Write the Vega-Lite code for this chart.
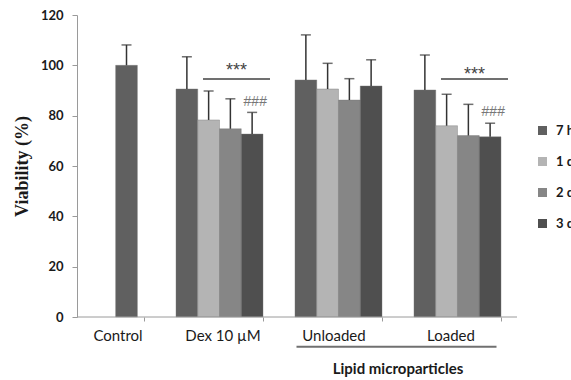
{
  "$schema": "https://vega.github.io/schema/vega-lite/v6.json",
  "width": 440,
  "height": 302,
  "autosize": "none",
  "padding": {"left": 77, "top": 15, "right": 54, "bottom": 63},
  "background": "white",
  "config": {"view": {"stroke": null}, "font": "Lato"},
  "datasets": {
    "bars": [
      {"group": "Control", "series": "7 h", "value": 100.0, "upper": 108.1},
      {"group": "Dex 10 µM", "series": "7 h", "value": 90.6, "upper": 103.4},
      {"group": "Dex 10 µM", "series": "1 d", "value": 78.3, "upper": 89.8},
      {"group": "Dex 10 µM", "series": "2 d", "value": 74.8, "upper": 86.7},
      {"group": "Dex 10 µM", "series": "3 d", "value": 72.7, "upper": 81.3},
      {"group": "Unloaded", "series": "7 h", "value": 94.2, "upper": 112.1},
      {"group": "Unloaded", "series": "1 d", "value": 90.6, "upper": 100.8},
      {"group": "Unloaded", "series": "2 d", "value": 86.2, "upper": 94.7},
      {"group": "Unloaded", "series": "3 d", "value": 91.8, "upper": 102.2},
      {"group": "Loaded", "series": "7 h", "value": 90.2, "upper": 104.1},
      {"group": "Loaded", "series": "1 d", "value": 76.0, "upper": 88.5},
      {"group": "Loaded", "series": "2 d", "value": 72.1, "upper": 84.5},
      {"group": "Loaded", "series": "3 d", "value": 71.6, "upper": 77.0}
    ],
    "stars": [
      {"group": "Dex 10 µM", "line": 94.6, "label": "***", "labelY": 97.6, "hash": "###", "hashY": 85.4},
      {"group": "Loaded", "line": 94.6, "label": "***", "labelY": 96.2, "hash": "###", "hashY": 81.6}
    ],
    "bracket": [
      {"group": "Unloaded", "line": -11.8, "label": "Lipid microparticles", "labelY": -20.7}
    ]
  },
  "layer": [
    {
      "data": {"name": "bars"},
      "transform": [{"filter": "datum.group !== 'Control'"}],
      "mark": {"type": "bar", "stroke": "#777", "strokeWidth": 0.4},
      "encoding": {
        "x": {
          "field": "group", "type": "nominal",
          "scale": {"domain": ["Control", "Dex 10 µM", "Unloaded", "Loaded"], "range": [-36, 440], "paddingInner": 0.2689, "paddingOuter": 0.1345},
          "axis": {
            "title": null, "domain": false, "tickBand": "extent", "tickSize": 4, "tickColor": "#9a9a9a",
            "tickOpacity": {"condition": {"test": "datum.extra", "value": 0}, "value": 1},
            "labelAngle": 0, "labelFontSize": 15, "labelColor": "#1a1a1a", "labelPadding": 7, "labelFont": "Lato",
            "labelOffset": {"condition": [
              {"test": "datum.value === 'Control'", "value": 17},
              {"test": "datum.value === 'Unloaded'", "value": -5},
              {"test": "datum.value === 'Loaded'", "value": -7}
            ], "value": 3}
          }
        },
        "xOffset": {"field": "series", "type": "nominal", "scale": {"domain": ["7 h", "1 d", "2 d", "3 d"], "paddingInner": 0, "paddingOuter": 0}},
        "y": {
          "field": "value", "type": "quantitative",
          "scale": {"domain": [0, 120], "nice": false},
          "axis": {
            "title": "Viability (%)", "titleFont": "Liberation Serif", "titleFontSize": 18, "titleFontWeight": "bold", "titleColor": "#1a1a1a", "titlePadding": 9,
            "values": [0, 20, 40, 60, 80, 100, 120], "grid": false, "domainColor": "#9a9a9a", "tickColor": "#9a9a9a", "tickSize": 5,
            "labelFont": "Lato", "labelFontWeight": "bold", "labelFontSize": 13, "labelColor": "#1a1a1a", "labelPadding": 9
          }
        },
        "color": {
          "field": "series", "type": "nominal",
          "scale": {"domain": ["7 h", "1 d", "2 d", "3 d"], "range": ["#606060", "#b4b4b4", "#868686", "#4f4f4f"]},
          "legend": {
            "title": null, "orient": "none", "legendX": 459, "legendY": 109, "padding": 0,
            "symbolType": "square", "symbolSize": 81, "symbolStrokeWidth": 0, "labelOffset": 7,
            "labelFont": "Lato", "labelFontWeight": "bold", "labelFontSize": 13, "labelColor": "#1a1a1a", "rowPadding": 17
          }
        }
      }
    },
    {
      "data": {"name": "bars"},
      "transform": [{"filter": "datum.group === 'Control'"}],
      "mark": {"type": "bar", "width": {"band": 0.25}, "xOffset": 26, "stroke": "#777", "strokeWidth": 0.4},
      "encoding": {
        "x": {"field": "group", "type": "nominal"},
        "y": {"field": "value", "type": "quantitative"},
        "color": {"field": "series", "type": "nominal"}
      }
    },
    {
      "data": {"name": "bars"},
      "transform": [{"filter": "datum.group !== 'Control'"}],
      "mark": {"type": "rule", "color": "#333", "strokeWidth": 1.5},
      "encoding": {
        "x": {"field": "group", "type": "nominal"},
        "xOffset": {"field": "series", "type": "nominal"},
        "y": {"field": "value", "type": "quantitative"},
        "y2": {"field": "upper"}
      }
    },
    {
      "data": {"name": "bars"},
      "transform": [{"filter": "datum.group !== 'Control'"}],
      "mark": {"type": "tick", "color": "#333", "thickness": 1.5, "size": 10},
      "encoding": {
        "x": {"field": "group", "type": "nominal"},
        "xOffset": {"field": "series", "type": "nominal"},
        "y": {"field": "upper", "type": "quantitative"}
      }
    },
    {
      "data": {"name": "bars"},
      "transform": [{"filter": "datum.group === 'Control'"}],
      "mark": {"type": "rule", "color": "#333", "strokeWidth": 1.5, "xOffset": 26},
      "encoding": {
        "x": {"field": "group", "type": "nominal"},
        "y": {"field": "value", "type": "quantitative"},
        "y2": {"field": "upper"}
      }
    },
    {
      "data": {"name": "bars"},
      "transform": [{"filter": "datum.group === 'Control'"}],
      "mark": {"type": "tick", "color": "#333", "thickness": 1.5, "size": 10, "xOffset": 26},
      "encoding": {
        "x": {"field": "group", "type": "nominal"},
        "y": {"field": "upper", "type": "quantitative"}
      }
    },
    {
      "data": {"values": [{"base": 0}]},
      "mark": {"type": "rule", "color": "#9a9a9a", "strokeWidth": 1},
      "encoding": {"y": {"field": "base", "type": "quantitative"}}
    },
    {
      "data": {"name": "stars"},
      "mark": {"type": "tick", "color": "#333", "thickness": 2, "size": 67, "xOffset": 17},
      "encoding": {
        "x": {"field": "group", "type": "nominal"},
        "y": {"field": "line", "type": "quantitative"}
      }
    },
    {
      "data": {"name": "stars"},
      "mark": {"type": "text", "color": "#444", "fontSize": 18, "baseline": "middle", "font": "Liberation Sans"},
      "encoding": {
        "x": {"field": "group", "type": "nominal", "bandPosition": 0.695},
        "y": {"field": "labelY", "type": "quantitative"},
        "text": {"field": "label"}
      }
    },
    {
      "data": {"name": "stars"},
      "mark": {"type": "text", "color": "#777", "fontSize": 14, "baseline": "middle", "font": "Liberation Sans", "fontStyle": "italic"},
      "encoding": {
        "x": {"field": "group", "type": "nominal", "bandPosition": 0.908},
        "y": {"field": "hashY", "type": "quantitative"},
        "text": {"field": "hash"}
      }
    },
    {
      "data": {"name": "bracket"},
      "mark": {"type": "tick", "color": "#333", "thickness": 2, "size": 200, "xOffset": 58},
      "encoding": {
        "x": {"field": "group", "type": "nominal"},
        "y": {"field": "line", "type": "quantitative"}
      }
    },
    {
      "data": {"name": "bracket"},
      "mark": {"type": "text", "color": "#1a1a1a", "fontSize": 15, "fontWeight": "bold", "baseline": "middle", "font": "Lato"},
      "encoding": {
        "x": {"field": "group", "type": "nominal", "bandPosition": 1.184},
        "y": {"field": "labelY", "type": "quantitative"},
        "text": {"field": "label"}
      }
    }
  ]
}
